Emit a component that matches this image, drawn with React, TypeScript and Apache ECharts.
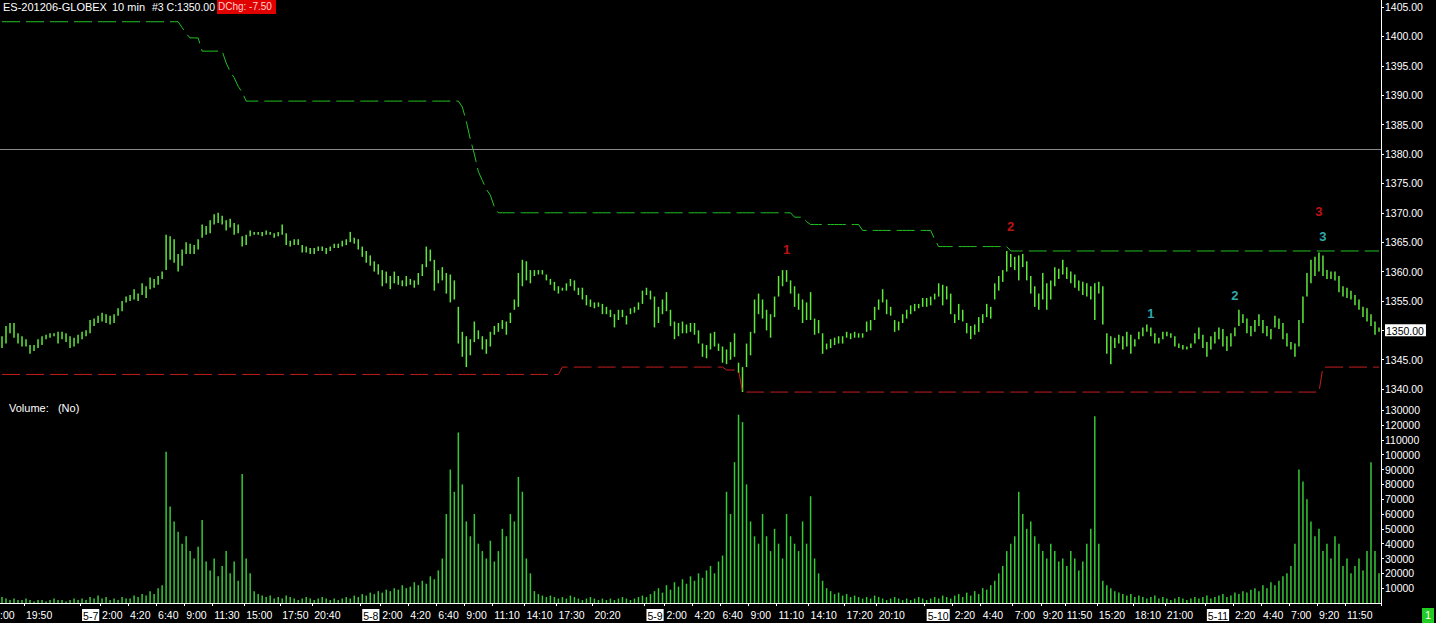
import React, { useEffect, useRef } from "react";
import * as echarts from "echarts";

// ---- price bars (20-minute resolution reading of the 10-min chart): low / high ----
const lows = [
  1347, 1347.75, 1349.5, 1348.75, 1347.75, 1347.25, 1347.25, 1346, 1346.5, 1347,
  1347.5, 1348.5, 1348.75, 1349, 1347.75, 1348.5, 1348, 1347, 1347.25, 1347.75,
  1348.5, 1349, 1349.5, 1350.75, 1351.25, 1351.5, 1351.25, 1351, 1351.25, 1352.5,
  1353.25, 1354.75, 1355, 1355.25, 1355, 1356, 1355.5, 1357, 1357.25, 1357.75,
  1358.75, 1360.25, 1362, 1361.5, 1360, 1361, 1363, 1363, 1363, 1363.75,
  1365.75, 1366.25, 1366.5, 1368, 1368.25, 1368, 1367, 1367.5, 1366.25, 1366.5,
  1364.25, 1364.5, 1366, 1366.25, 1366.25, 1366, 1366.25, 1366.25, 1365.75, 1366,
  1366.25, 1364.5, 1364.25, 1364.5, 1364.5, 1363.25, 1363.25, 1363, 1363, 1363.5,
  1363.5, 1363, 1363.5, 1364, 1364, 1364.25, 1364.5, 1365, 1364.75, 1363.75,
  1362.5, 1361.5, 1361, 1360, 1359.5, 1357.5, 1358, 1357, 1358, 1357.75,
  1357.5, 1357.5, 1357.75, 1357.25, 1357.75, 1359.25, 1360.75, 1361.75, 1356.75, 1358,
  1358.5, 1356.25, 1354.75, 1355.25, 1347.75,
  1345.5, 1343.75, 1345.75, 1348, 1348.5, 1346.75, 1346, 1347.25, 1349.25, 1349.75,
  1350.25, 1349.25, 1351.25, 1353.5, 1354, 1357.5, 1358.5, 1358, 1359.25, 1359.5,
  1359.5, 1358.5, 1357.75, 1356.75, 1356.25, 1356.75, 1356.75, 1357.5, 1356.75, 1356,
  1355.25, 1354.25, 1354, 1353.75, 1354, 1352.75, 1352.75, 1352.25, 1350.5, 1351.75,
  1352.25, 1351, 1352.75, 1353, 1353.5, 1354.5, 1356, 1355.25, 1350.5, 1351.25,
  1352.75, 1353.25, 1350.75, 1348.5, 1349, 1349.5, 1349.5, 1349.75, 1349.25, 1347.75,
  1345.5, 1345.25, 1346.75, 1347.25, 1346.5, 1344.5, 1344.25, 1345, 1345.5, 1342.75,
  1339.5, 1343.75, 1345.75, 1349.5, 1352.75, 1352, 1350, 1348.75, 1352.25, 1355.75,
  1357.5, 1358.25, 1356.25, 1354, 1353.5, 1351.25, 1351.75, 1351.75, 1349.25, 1349.5,
  1346, 1346.75, 1347, 1347.5, 1347.75, 1347.75, 1348.75, 1348.5, 1348.75, 1348.75,
  1348.75, 1349.75, 1350, 1351.75, 1353.5, 1354.75, 1352.75, 1352.5, 1349.75, 1350,
  1351.25, 1352, 1352.75, 1353.25, 1353.75,
  1354, 1354, 1354.25, 1355.25, 1355.75, 1354.25, 1355.25, 1352.75, 1351.25, 1351.75,
  1351.5, 1349.5, 1348.5, 1349.25, 1349.75, 1351.25, 1352.25, 1352, 1355.25, 1356.75,
  1358.25, 1360, 1360.75, 1360.25, 1358.5, 1360.75, 1358.5, 1356.25, 1354, 1353.5,
  1355.25, 1353.5, 1355.25, 1357.5, 1358.75, 1359.5, 1358.75, 1358, 1357.25, 1356.75,
  1356, 1355.75, 1355.25, 1351.75, 1356.25, 1351, 1346, 1344.25, 1347, 1347.75,
  1346.75, 1347.25, 1346, 1347.25, 1348.5, 1349, 1349.75, 1349, 1347.75, 1347.75,
  1348.5, 1349, 1348.75, 1347.25, 1347, 1346.75, 1346.75, 1347, 1347.75, 1348.5,
  1347, 1345.5, 1346.75, 1347.75, 1348.5, 1347.25, 1346.5, 1347.25, 1349, 1350.75,
  1351.25, 1349.5, 1349, 1349.75, 1350.75, 1349.5, 1349, 1348.5, 1350.5, 1350.25,
  1348.5, 1347.25, 1346.75, 1345.5, 1347.25, 1351.25, 1355.75, 1358, 1359.25, 1360,
  1359.25, 1358.75, 1358.75, 1358.5, 1356.5, 1355.75, 1355.5, 1355.25, 1354.25, 1353.5,
  1352.25, 1351.5, 1350.75, 1349.25, 1349.75,
];
const highs = [
  1349, 1350.75, 1351.25, 1351.25, 1349.5, 1349, 1348.5, 1347.5, 1347.5, 1348.5,
  1349, 1349.25, 1349.5, 1349.5, 1349.75, 1349.75, 1349.5, 1349, 1348.75, 1349.25,
  1349.75, 1350, 1351.75, 1352, 1352.5, 1353, 1352.75, 1352.5, 1352.75, 1353.75,
  1355, 1355.75, 1356, 1357, 1356.25, 1358, 1357.5, 1359, 1358.75, 1359.25,
  1360, 1366.25, 1366, 1365.5, 1363, 1363.75, 1365, 1364.75, 1364.5, 1365.5,
  1368, 1367.75, 1368.75, 1369.75, 1370, 1369.5, 1368.75, 1369, 1368.25, 1368,
  1366, 1366.25, 1367, 1366.75, 1366.75, 1366.75, 1367, 1366.75, 1366.5, 1366.75,
  1368, 1366.5, 1365.25, 1365.5, 1365.5, 1364.5, 1364.25, 1364, 1364, 1364.25,
  1364.25, 1364, 1364.25, 1364.75, 1364.75, 1365.25, 1365.5, 1366.75, 1365.75, 1365.5,
  1364.25, 1363.5, 1362.75, 1361.75, 1361.25, 1360.25, 1360, 1359.25, 1360, 1359.25,
  1358.5, 1359.25, 1358.75, 1358.5, 1359.75, 1361.25, 1364.25, 1363.75, 1362, 1360.25,
  1360.75, 1359.75, 1359.5, 1358.5, 1354,
  1349.75, 1349, 1348.5, 1351.5, 1350, 1349, 1348.5, 1349.75, 1350.75, 1351.25,
  1351.75, 1351.5, 1353, 1355.25, 1359.75, 1362, 1361.75, 1360.25, 1360.25, 1360.25,
  1360.25, 1359.5, 1358.75, 1358.25, 1357.5, 1357.25, 1358, 1358.75, 1358.5, 1357.25,
  1357.25, 1356, 1355.25, 1354.75, 1354.75, 1354.5, 1354, 1353.5, 1352.75, 1353.5,
  1353.5, 1352.5, 1353.75, 1354, 1354.75, 1356.75, 1357.25, 1356.75, 1355.75, 1354,
  1355.25, 1356.5, 1353.5, 1351.5, 1351.25, 1351.5, 1351, 1351.25, 1351.25, 1350,
  1347.75, 1347.5, 1349.5, 1349.75, 1347.75, 1347.25, 1346.75, 1348, 1349.5, 1344.5,
  1343.75, 1347.75, 1349.75, 1355.25, 1356.25, 1355.25, 1353.5, 1352.75, 1355.75, 1359.25,
  1360.25, 1360.25, 1358.5, 1357.5, 1356.25, 1355.25, 1354.75, 1356.5, 1352, 1351.75,
  1349.5, 1347.75, 1348.5, 1348.75, 1349, 1349, 1349.75, 1349.5, 1349.75, 1349.5,
  1349.5, 1351.5, 1351.75, 1354, 1355.25, 1357, 1355.25, 1354, 1351.75, 1351.5,
  1352.75, 1353.5, 1354.25, 1354.5, 1354.5,
  1355.5, 1355.5, 1355.75, 1356.25, 1358, 1357.75, 1357.5, 1356.25, 1352.75, 1354.5,
  1353.5, 1351.25, 1350.75, 1351, 1352.25, 1352.75, 1354.5, 1354, 1358, 1359.25,
  1360.25, 1363.5, 1363, 1362.5, 1362.75, 1363, 1361.75, 1359.25, 1357.5, 1356.25,
  1359.75, 1358, 1358.5, 1360.75, 1360.5, 1362, 1360.75, 1360, 1359.5, 1358.5,
  1358.25, 1358, 1357.5, 1358, 1358.25, 1357.5, 1349.5, 1349, 1348.75, 1349.25,
  1349, 1349.75, 1349.25, 1348.5, 1349.75, 1350.5, 1351, 1350.5, 1349.5, 1348.75,
  1349.75, 1349.75, 1349.5, 1349, 1347.75, 1347.5, 1347.25, 1347.75, 1349.5, 1350.5,
  1349.25, 1348, 1349, 1349.75, 1350.5, 1350.25, 1349, 1349.5, 1350.5, 1353.5,
  1352.75, 1352, 1350.75, 1351.75, 1352.75, 1351.75, 1350.75, 1350.25, 1352.5, 1352,
  1351.25, 1349.5, 1348, 1347.75, 1351.75, 1355.75, 1359.75, 1362, 1362.5, 1363.25,
  1362.75, 1360.25, 1360, 1360, 1359.25, 1357.5, 1357.25, 1356.75, 1356, 1355.25,
  1354, 1353.75, 1352.75, 1351.5, 1350.5,
];

// ---- volume, thousands of contracts per bar ----
const volumeK = [
  4, 3, 2, 3, 2, 2, 3, 2, 1, 2, 2, 1, 2, 3, 2, 2, 1, 2, 3, 2,
  3, 2, 4, 3, 5, 3, 4, 2, 3, 2, 4, 3, 3, 5, 4, 6, 5, 8, 6, 10,
  12, 102, 65, 55, 48, 40, 45, 35, 30, 38, 56, 28, 22, 30, 18, 25, 35, 20, 28, 15,
  87, 30, 20,
  8, 6, 5, 4, 5, 3, 4, 3, 5, 4, 3, 2, 3, 4, 3, 2, 3, 4, 3, 2,
  3, 2, 3, 4, 3, 5, 4, 6, 5, 7, 6, 8,
  7, 9, 8, 10, 9, 12, 10, 11, 14, 12, 15, 13, 18, 16, 22, 30,
  60, 90, 75, 115, 80, 55, 45, 60, 40, 35, 30, 42, 28, 35, 50, 45, 60, 55, 85, 75,
  30, 20,
  8, 6, 5, 4, 5, 4, 3, 4, 3, 5, 4, 3, 2, 3, 4, 3, 2, 3, 2, 3,
  2, 3, 4, 3, 2, 3, 4, 5, 4, 6,
  8, 10, 7, 12, 9, 14, 11, 16, 13, 18, 15, 20, 17, 22, 25, 20, 28, 32,
  75, 60, 95, 127, 122, 80, 55, 45, 40, 60, 45, 35, 50, 40, 30, 60, 45, 40, 35, 55,
  40, 72, 30, 20,
  15, 10, 8, 6, 7, 5, 6, 4, 5, 4, 3, 4, 3, 5, 4, 3, 2, 3, 4, 3,
  2, 3, 2, 3, 4, 3, 2, 3, 4, 3, 5, 4, 3, 5, 6, 4, 7, 5, 8, 6,
  10, 9, 12,
  15, 20, 25, 35, 40, 45, 75, 60, 50, 55, 45, 40, 35,
  30, 40, 35, 28, 30, 25, 35, 30, 22, 28, 40, 50, 126, 40, 15,
  12, 10, 8, 7, 6, 5, 6, 4, 5, 4, 3, 4, 5, 3, 4, 3, 2, 3, 4, 3,
  2, 3, 4, 3, 4, 5, 3, 4, 5, 6, 4, 5, 7, 6, 8, 7, 9, 10, 8, 12,
  10, 14, 12, 15, 18, 20,
  25, 40, 90, 82, 70, 55, 45, 50, 35, 40, 30, 45, 40, 25, 30, 20, 25, 30, 22, 35,
  95, 35, 20,
];

// ---- trailing high (green dashed) and trailing low (red dashed): bar where level starts, level ----
const upperStart = [0, 45, 46, 47, 50, 56, 57, 58, 59, 60, 61, 115, 116, 117, 118, 119, 120, 121, 122, 123, 124, 198, 201, 202, 215, 233, 234, 252];
const upperLevel = [1402.5, 1401.5, 1400.5, 1399.75, 1397.5, 1395.5, 1394, 1393, 1391.5, 1390.5, 1389, 1388, 1385.5, 1382.5, 1380, 1377, 1375.5, 1374, 1373, 1371, 1370, 1369.25, 1368.5, 1368, 1367, 1365.5, 1364.25, 1363.5];
const lowerStart = [0, 140, 181, 185, 330];
const lowerLevel = [1342.5, 1343.75, 1343.25, 1339.5, 1343.75];
const referenceLevel = 1380.75;

// ---- axes ----
const priceTicks = [1340, 1345, 1350, 1355, 1360, 1365, 1370, 1375, 1380, 1385, 1390, 1395, 1400, 1405];
const volumeTicksK = [10, 20, 30, 40, 50, 60, 70, 80, 90, 100, 110, 120, 130];
const lastClose = 1350;
const timeTickBars = [6, 20, 25, 32, 39, 46, 53, 61, 70, 78, 90, 95, 102, 109, 116, 123, 131, 139, 148, 161, 166, 173, 180, 187, 194, 202, 211, 219, 231, 238, 245, 253, 260, 266, 274, 283, 291, 301, 308, 315, 322, 329, 336];
const timeTickLabels = ["19:50", "5-7", "2:00", "4:20", "6:40", "9:00", "11:30", "15:00", "17:50", "20:40", "5-8", "2:00", "4:20", "6:40", "9:00", "11:10", "14:10", "17:30", "20:20", "5-9", "2:00", "4:20", "6:40", "9:00", "11:10", "14:10", "17:20", "20:10", "5-10", "2:20", "4:40", "7:00", "9:20", "11:50", "15:20", "18:10", "21:00", "5-11", "2:20", "4:40", "7:00", "9:20", "11:50"];
const clippedFirstLabel = ":00";

// ---- annotations ----
const redMarkBars = [196, 252, 329];
const redMarkPrices = [1363.75, 1367.75, 1370.25];
const redMarkTexts = ["1", "2", "3"];
const cyanMarkBars = [287, 308, 330];
const cyanMarkPrices = [1352.9, 1356, 1365.9];
const cyanMarkTexts = ["1", "2", "3"];

const titleParts = ["ES-201206-GLOBEX", "10 min", "#3 C:1350.00"];
const changeText = "DChg: -7.50";
const volumeTitle = "Volume:   (No)";

const FONT = "'Liberation Sans', Arial, sans-serif";

export default function App() {
  const ref = useRef<HTMLDivElement>(null);
  useEffect(() => {
    if (!ref.current) return;
    const chart = echarts.init(ref.current, null, { renderer: "svg" });
    const n = lows.length;
    const cats = lows.map((_, i) => String(i));
    const expand = (starts: number[], levels: number[]) => {
      const out: number[] = [];
      let k = 0;
      for (let i = 0; i < n; i++) {
        while (k + 1 < starts.length && starts[k + 1] <= i) k++;
        out.push(levels[k]);
      }
      return out;
    };
    const upper = expand(upperStart, upperLevel);
    const lower = expand(lowerStart, lowerLevel);
    const tickMap = new Map<number, string>();
    timeTickBars.forEach((b, i) => tickMap.set(b, timeTickLabels[i]));

    const option: any = {
      animation: false,
      backgroundColor: "#000",
      textStyle: { fontFamily: FONT },
      grid: [
        { left: 0, right: 55, top: 0, height: 400 },
        { left: 0, right: 55, top: 400, height: 203 },
      ],
      xAxis: [
        { type: "category", gridIndex: 0, data: cats, show: false, boundaryGap: true },
        {
          type: "category",
          gridIndex: 1,
          data: cats,
          boundaryGap: true,
          axisLine: { show: true, onZero: false, lineStyle: { color: "#fff", width: 1 } },
          axisTick: {
            show: true,
            length: 3,
            interval: (i: number) => tickMap.has(i),
            lineStyle: { color: "#fff" },
          },
          axisLabel: {
            interval: (i: number) => tickMap.has(i),
            formatter: (_v: string, i: number) => {
              const t = tickMap.get(i) || "";
              return t.indexOf("-") >= 0 ? `{d|${t}}` : t;
            },
            color: "#fff",
            align: "left",
            margin: 6,
            fontSize: 10.5,
            fontFamily: FONT,
            rich: {
              d: { backgroundColor: "#fff", color: "#000", padding: [1, 1, 0, 1], fontSize: 10.5, fontFamily: FONT },
            },
          },
          splitLine: { show: false },
        },
      ],
      yAxis: [
        {
          type: "value",
          gridIndex: 0,
          position: "right",
          min: 1338.15,
          max: 1406.2,
          splitLine: { show: false },
          axisLine: { show: true, lineStyle: { color: "#fff" } },
          axisTick: { show: true, length: 3, customValues: priceTicks, lineStyle: { color: "#fff" } },
          axisLabel: {
            customValues: priceTicks,
            formatter: (v: number) => (Math.abs(v - lastClose) < 1e-6 ? `{hl|${v.toFixed(2)}}` : v.toFixed(2)),
            color: "#fff",
            margin: 4,
            fontSize: 10.5,
            fontFamily: FONT,
            rich: {
              hl: { backgroundColor: "#fff", color: "#000", padding: [1, 2, 0, 1], fontSize: 10.5, fontFamily: FONT },
            },
          },
        },
        {
          type: "value",
          gridIndex: 1,
          position: "right",
          min: 0,
          max: 136.9,
          splitLine: { show: false },
          axisLine: { show: true, lineStyle: { color: "#fff" } },
          axisTick: { show: true, length: 3, customValues: volumeTicksK, lineStyle: { color: "#fff" } },
          axisLabel: {
            customValues: volumeTicksK,
            formatter: (v: number) => String(Math.round(v * 1000)),
            color: "#fff",
            margin: 4,
            fontSize: 10.5,
            fontFamily: FONT,
          },
        },
      ],
      series: [
        {
          type: "custom",
          name: "price",
          xAxisIndex: 0,
          yAxisIndex: 0,
          encode: { x: 0, y: [1, 2] },
          data: lows.map((lo, i) => [i, lo, highs[i]]),
          renderItem: (_p: any, api: any) => {
            const i = api.value(0);
            const a = api.coord([i, api.value(1)]);
            const b = api.coord([i, api.value(2)]);
            return {
              type: "rect",
              shape: { x: a[0] - 0.75, y: b[1], width: 1.5, height: Math.max(1, a[1] - b[1]) },
              style: { fill: "#5ee83a" },
            };
          },
        },
        {
          type: "line",
          name: "upper",
          xAxisIndex: 0,
          yAxisIndex: 0,
          data: upper,
          symbol: "none",
          lineStyle: { color: "#22c422", width: 1, type: [18, 6] },
          markLine: {
            silent: true,
            symbol: ["none", "none"],
            label: { show: false },
            lineStyle: { color: "#8a8a8a", type: "solid", width: 1 },
            data: [{ yAxis: referenceLevel }],
          },
        },
        {
          type: "line",
          name: "lower",
          xAxisIndex: 0,
          yAxisIndex: 0,
          data: lower,
          symbol: "none",
          lineStyle: { color: "#c81e1e", width: 1, type: [18, 6] },
        },
        {
          type: "scatter",
          xAxisIndex: 0,
          yAxisIndex: 0,
          symbolSize: 1,
          itemStyle: { color: "rgba(0,0,0,0)" },
          data: redMarkBars.map((b, i) => [b, redMarkPrices[i]]),
          label: {
            show: true,
            position: "inside",
            formatter: (p: any) => redMarkTexts[p.dataIndex],
            color: "#f01818",
            fontWeight: "bold",
            fontSize: 13,
            fontFamily: FONT,
          },
        },
        {
          type: "scatter",
          xAxisIndex: 0,
          yAxisIndex: 0,
          symbolSize: 1,
          itemStyle: { color: "rgba(0,0,0,0)" },
          data: cyanMarkBars.map((b, i) => [b, cyanMarkPrices[i]]),
          label: {
            show: true,
            position: "inside",
            formatter: (p: any) => cyanMarkTexts[p.dataIndex],
            color: "#3cd8dc",
            fontWeight: "bold",
            fontSize: 13,
            fontFamily: FONT,
          },
        },
        {
          type: "bar",
          name: "volume",
          xAxisIndex: 1,
          yAxisIndex: 1,
          data: volumeK,
          barWidth: 1.5,
          itemStyle: { color: "#35c935" },
        },
      ],
      graphic: [
        { type: "text", x: 3, y: 1, style: { text: titleParts[0], fill: "#fff", font: `11px ${FONT}` } },
        { type: "text", x: 112, y: 1, style: { text: titleParts[1], fill: "#fff", font: `11px ${FONT}` } },
        { type: "text", x: 152, y: 1, style: { text: titleParts[2], fill: "#fff", font: `10.5px ${FONT}` } },
        { type: "rect", x: 217, y: 0, shape: { width: 59, height: 14 }, style: { fill: "#e00000" } },
        { type: "text", x: 218, y: 1.5, style: { text: changeText, fill: "#ffd0d0", font: `10px ${FONT}` } },
        { type: "text", x: 9, y: 402, style: { text: volumeTitle, fill: "#fff", font: `11px ${FONT}` } },
        { type: "text", x: 0, y: 609, style: { text: clippedFirstLabel, fill: "#fff", font: `10.5px ${FONT}` } },
        { type: "rect", x: 1422, y: 608, shape: { width: 12, height: 15 }, style: { fill: "#22cc22" } },
        { type: "text", x: 1425, y: 609, style: { text: "1", fill: "#fff", font: `11px ${FONT}` } },
      ],
    };
    chart.setOption(option);
    return () => chart.dispose();
  }, []);
  return (
    <div
      ref={ref}
      style={{ position: "fixed", left: 0, top: 0, width: 1436, height: 623, background: "#000" }}
    />
  );
}
